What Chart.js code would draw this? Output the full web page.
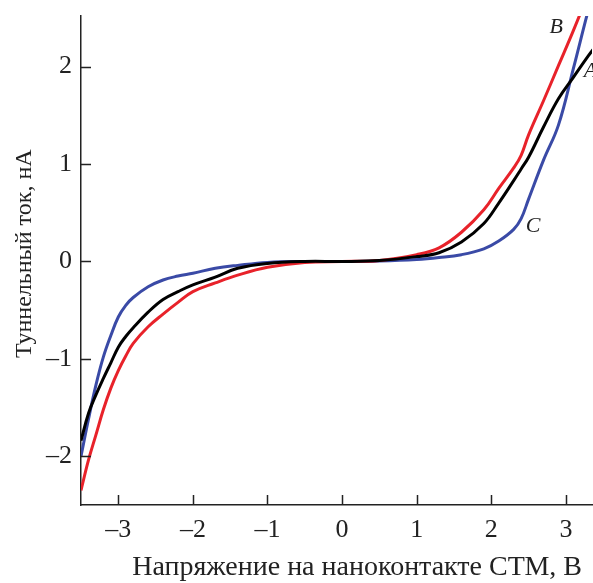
<!DOCTYPE html>
<html>
<head>
<meta charset="utf-8">
<script src="https://cdn.jsdelivr.net/npm/chart.js@4"></script>
<style>
  html, body { margin: 0; padding: 0; background: #fff; }
  #wrap { width: 593px; height: 583px; }
</style>
</head>
<body>
<div id="wrap"><canvas id="ivChart"></canvas></div>
<script>
// voltage grid, V
const voltage = [-3.5, -3.4, -3.3, -3.2, -3.1, -3.0, -2.9, -2.8, -2.6, -2.4, -2.2, -2.0, -1.7, -1.4, -1.0, -0.5, 0, 0.5, 1.0, 1.3, 1.6, 1.9, 2.1, 2.3, 2.4, 2.5, 2.7, 2.9, 3.1, 3.3, 3.4];

// tunnel current, nA
const currentA = [-1.84, -1.56, -1.37, -1.20, -1.04, -0.88, -0.77, -0.68, -0.52, -0.39, -0.31, -0.24, -0.16, -0.07, -0.02, 0.0, 0.0, 0.01, 0.05, 0.09, 0.20, 0.39, 0.60, 0.83, 0.95, 1.07, 1.38, 1.67, 1.89, 2.11, 2.21];
const currentB = [-2.35, -2.04, -1.78, -1.52, -1.30, -1.12, -0.97, -0.84, -0.67, -0.54, -0.42, -0.31, -0.22, -0.14, -0.06, -0.01, 0.0, 0.01, 0.07, 0.14, 0.30, 0.53, 0.75, 0.96, 1.09, 1.30, 1.65, 2.01, 2.37, 2.75, 2.95];
const currentC = [-2.00, -1.62, -1.27, -0.98, -0.76, -0.57, -0.45, -0.37, -0.26, -0.19, -0.15, -0.12, -0.07, -0.04, -0.01, 0.0, 0.0, 0.005, 0.02, 0.04, 0.07, 0.13, 0.21, 0.33, 0.44, 0.64, 1.04, 1.40, 1.98, 2.58, 2.85];

const xTicks = [-3, -2, -1, 0, 1, 2, 3];
const yTicks = [-2, -1, 0, 1, 2];

const xTitle = "Напряжение на наноконтакте СТМ, В";
const yTitle = "Туннельный ток, нА";

// curve labels (text, V, nA)
const curveLabels = ["B", "C", "A"];
const labelX = [2.87, 2.56, 3.33];
const labelY = [2.40, 0.36, 1.95];

const serif = "'Liberation Serif', 'DejaVu Serif', serif";

function pts(ys) {
    return voltage.map((v, i) => ({ x: v, y: ys[i] }));
}

function ds(ys, color) {
    return {
        data: pts(ys),
        borderColor: color,
        borderWidth: 3,
        pointRadius: 0,
        fill: false,
        tension: 0.4
    };
}

// inward ticks, axis titles, curve letters
const extras = {
    id: "extras",
    afterDraw(chart) {
        const ctx = chart.ctx;
        const xs = chart.scales.x, ys = chart.scales.y;
        const area = chart.chartArea;
        ctx.save();
        ctx.strokeStyle = "#222";
        ctx.lineWidth = 1.5;
        ctx.beginPath();
        xTicks.forEach(t => {
            const px = Math.round(xs.getPixelForValue(t)) + 0.5;
            ctx.moveTo(px, area.bottom);
            ctx.lineTo(px, area.bottom - 10);
        });
        yTicks.forEach(t => {
            const py = Math.round(ys.getPixelForValue(t)) + 0.5;
            ctx.moveTo(area.left, py);
            ctx.lineTo(area.left + 10, py);
        });
        ctx.stroke();

        ctx.fillStyle = "#222";
        ctx.textBaseline = "middle";

        // x title, right-aligned a little inside the axis end
        ctx.font = "28px " + serif;
        ctx.textAlign = "right";
        ctx.fillText(xTitle, area.right - 10, 568);

        // y title, rotated
        ctx.save();
        ctx.translate(25, ys.getPixelForValue(0.08));
        ctx.rotate(-Math.PI / 2);
        ctx.font = "24px " + serif;
        ctx.textAlign = "center";
        ctx.fillText(yTitle, 0, 0);
        ctx.restore();

        ctx.font = "italic 22px " + serif;
        ctx.textAlign = "center";
        curveLabels.forEach((s, i) => {
            ctx.fillText(s, xs.getPixelForValue(labelX[i]), ys.getPixelForValue(labelY[i]));
        });
        ctx.restore();
    }
};

new Chart(document.getElementById("ivChart"), {
    type: "line",
    data: {
        datasets: [ds(currentA, "#000000"), ds(currentB, "#e8222a"), ds(currentC, "#3a4aa6")]
    },
    options: {
        responsive: true,
        maintainAspectRatio: false,
        animation: false,
        layout: { padding: { top: 16, right: 1, left: 0, bottom: 0 } },
        plugins: {
            legend: { display: false },
            tooltip: { enabled: false }
        },
        scales: {
            x: {
                type: "linear",
                min: -3.5,
                max: 3.35,
                afterFit: s => { s.height = 78; },
                afterBuildTicks: s => { s.ticks = xTicks.map(v => ({ value: v })); },
                grid: { drawOnChartArea: false, drawTicks: false },
                border: { color: "#222", width: 1.5 },
                ticks: {
                    padding: 10,
                    color: "#222",
                    font: { family: serif, size: 26 },
                    callback: v => v < 0 ? "\u2013" + Math.abs(v) : String(v)
                }
            },
            y: {
                type: "linear",
                min: -2.5,
                max: 2.52,
                afterFit: s => { s.width = 81; s.paddingTop = 0; s.paddingBottom = 0; },
                afterBuildTicks: s => { s.ticks = yTicks.map(v => ({ value: v })); },
                grid: { drawOnChartArea: false, drawTicks: false },
                border: { color: "#222", width: 1.5 },
                ticks: {
                    padding: 9,
                    color: "#222",
                    font: { family: serif, size: 26 },
                    callback: v => v < 0 ? "\u2013" + Math.abs(v) : String(v)
                }
            }
        }
    },
    plugins: [extras]
});
</script>
</body>
</html>
